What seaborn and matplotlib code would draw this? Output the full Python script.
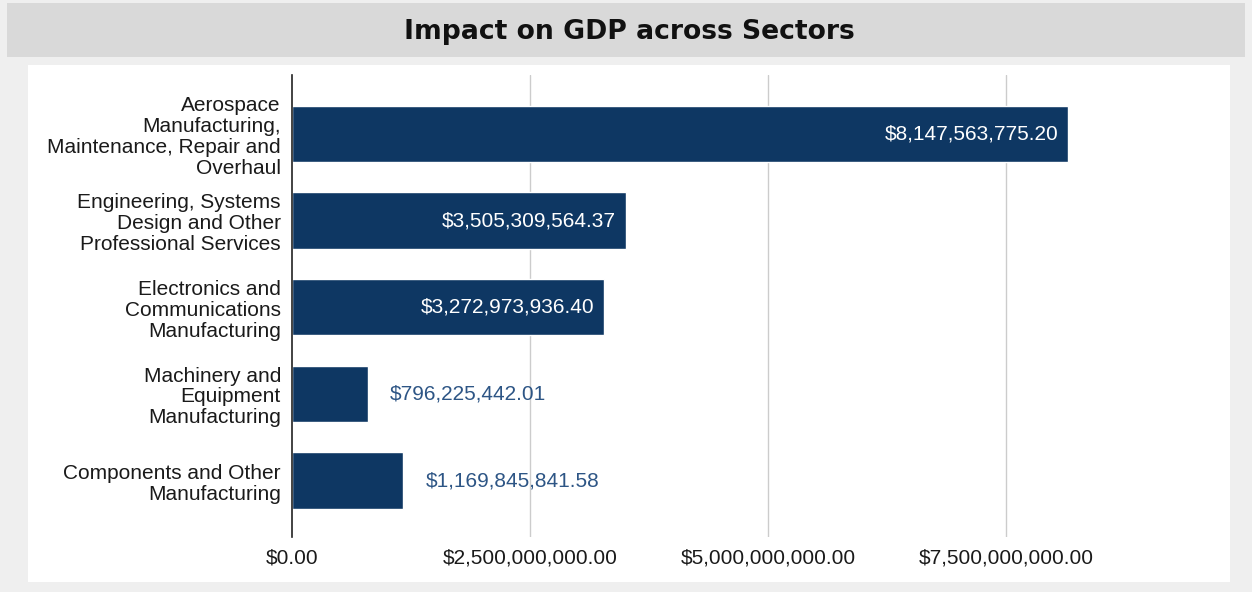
import matplotlib
matplotlib.use("Agg")
import matplotlib.pyplot as plt
import seaborn as sns
import pandas as pd
from matplotlib.patches import Rectangle
from matplotlib.ticker import FuncFormatter

# ==========================
# Data
# ==========================
sectors = [
    "Aerospace\nManufacturing,\nMaintenance, Repair and\nOverhaul",
    "Engineering, Systems\nDesign and Other\nProfessional Services",
    "Electronics and\nCommunications\nManufacturing",
    "Machinery and\nEquipment\nManufacturing",
    "Components and Other\nManufacturing",
]
gdp_impact = [8147563775.20, 3505309564.37, 3272973936.40, 796225442.01, 1169845841.58]
x_ticks = [0, 2.5e9, 5e9, 7.5e9]

df = pd.DataFrame({"Sector": sectors, "GDP": gdp_impact})

bar_color = "#0e3763"
outside_color = "#2d5585"

# ==========================
# Figure and background panels
# ==========================
sns.set_style("white")
plt.rcParams["font.family"] = ["Liberation Sans", "DejaVu Sans"]

fig = plt.figure(figsize=(12.52, 5.92), dpi=100)
fig.patch.set_facecolor("#efefef")

W, H = 1252, 592
# title banner
fig.patches.append(Rectangle((7 / W, 1 - 57 / H), 1238 / W, 54 / H,
                             transform=fig.transFigure, facecolor="#d9d9d9",
                             edgecolor="none", zorder=-10))
# white chart panel
fig.patches.append(Rectangle((28 / W, 1 - 582 / H), 1202 / W, 517 / H,
                             transform=fig.transFigure, facecolor="white",
                             edgecolor="none", zorder=-10))
fig.text(629 / W, 1 - 32 / H, "Impact on GDP across Sectors", ha="center", va="center",
         fontsize=19.2, fontweight="bold", family="DejaVu Sans", color="#111111")

ax = fig.add_axes([292 / W, 1 - 537 / H, (1111 - 292) / W, (537 - 75) / H])
ax.set_facecolor("none")

sns.barplot(data=df, x="GDP", y="Sector", orient="h", color=bar_color,
            width=0.65, saturation=1, ax=ax, zorder=3)

ax.set_xlim(0, 8.6e9)
ax.set_ylim(4.65, -0.68)
ax.set_xticks(x_ticks)
ax.xaxis.set_major_formatter(FuncFormatter(lambda v, p: f"${v:,.2f}"))
ax.set_xlabel("")
ax.set_ylabel("")

for x in x_ticks[1:]:
    ax.axvline(x, color="#cccccc", lw=1, zorder=1)

for side in ["top", "right", "bottom"]:
    ax.spines[side].set_visible(False)
ax.spines["left"].set_color("#222222")
ax.spines["left"].set_linewidth(1.2)
ax.spines["left"].set_zorder(5)

ax.tick_params(axis="x", length=0, pad=8, labelsize=15, labelcolor="#1a1a1a")
ax.tick_params(axis="y", length=0, pad=8, labelsize=15, labelcolor="#1a1a1a")
for lbl in ax.get_yticklabels():
    lbl.set_linespacing(1.13)

# value labels: inside for long bars, outside for short ones
for i, v in enumerate(gdp_impact):
    txt = f"${v:,.2f}"
    if v > 2.5e9:
        ax.annotate(txt, (v, i), xytext=(-7, 0), textcoords="offset points",
                    ha="right", va="center", color="white", fontsize=15, zorder=6)
    else:
        ax.annotate(txt, (v, i), xytext=(16, 0), textcoords="offset points",
                    ha="left", va="center", color=outside_color, fontsize=15, zorder=6)

plt.savefig("out.png", dpi=100, facecolor=fig.get_facecolor())
